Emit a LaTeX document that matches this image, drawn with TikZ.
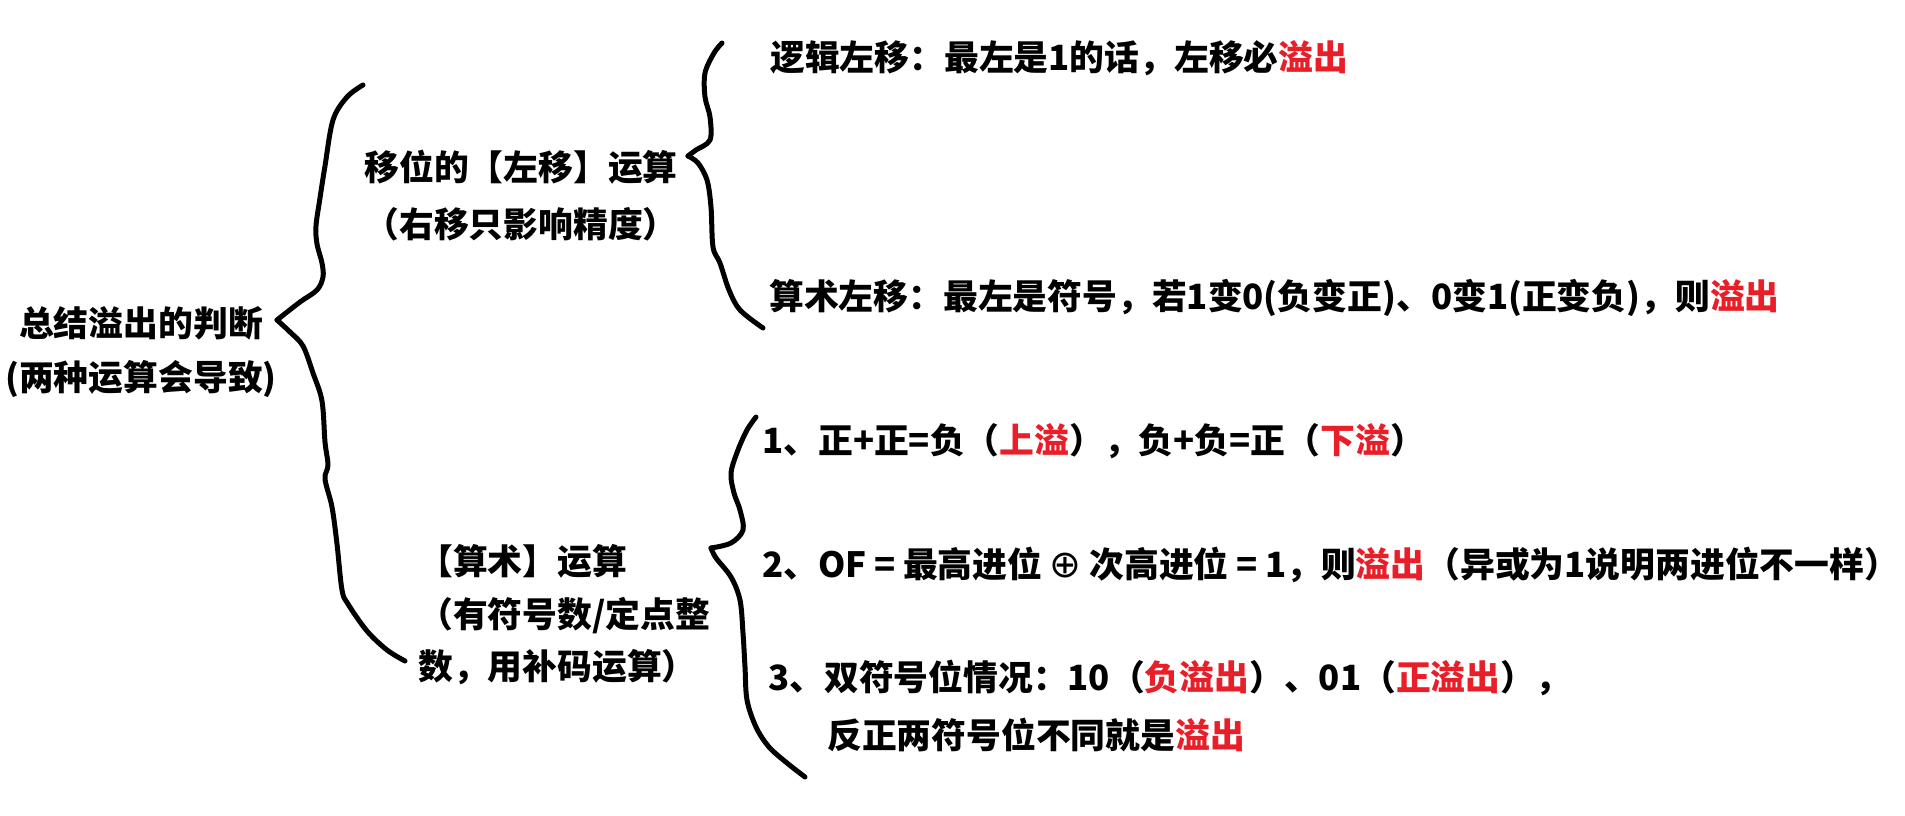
\documentclass[tikz,border=0pt]{standalone}
\usepackage{fontspec}
\setmainfont{Noto Sans CJK SC}
\newfontfamily\symfont{DejaVu Sans}
\definecolor{ored}{RGB}{232,30,40}
\tikzset{
  txt/.style={inner sep=0pt, font=\bfseries\fontsize{34.8}{52.5}\selectfont, text=black},
  bracepath/.style={line width=5pt, line cap=round, line join=round, draw=black},
}
\newcommand{\ov}[1]{\textcolor{ored}{#1}}
\newcommand{\gapsp}{\hspace{0.22em}}
\begin{document}
\begin{tikzpicture}[x=1pt,y=-1pt]
\fill[white] (0,0) rectangle (1905,816);
\useasboundingbox (0,0) rectangle (1905,816);

% texts
\node[txt, align=center, font=\bfseries\fontsize{34.8}{54}\selectfont] (root) at (141,352) {总结溢出的判断\\(两种运算会导致)};
\node[txt, align=center, font=\bfseries\fontsize{34.8}{57}\selectfont] (shift) at (521,196) {移位的【左移】运算\\（右移只影响精度）};
\node[txt, align=left, anchor=west] (arith) at (418,615) {【算术】运算\\（有符号数/定点整\\数，用补码运算）};

\node[txt, anchor=west] (t1) at (770,58) {逻辑左移：最左是1的话，左移必\ov{溢出}};
\node[txt, anchor=west] (t2) at (769,298) {算术左移：最左是符号，若1变0(负变正)、0变1(正变负)，则\ov{溢出}};
\node[txt, anchor=west] (i1) at (762,441) {1、正+正=负（\ov{上溢}），负+负=正（\ov{下溢}）};
\node[txt, anchor=west] (i2) at (762,565) {2、OF{\gapsp}={\gapsp}最高进位{\gapsp}{\symfont\mdseries\fontsize{38}{38}\selectfont ⊕}{\gapsp}次高进位{\gapsp}={\gapsp}1，则\ov{溢出}（异或为1说明两进位不一样）};
\node[txt, anchor=west] (i3) at (768,678) {3、双符号位情况：10（\ov{负溢出}）、01（\ov{正溢出}），};
\node[txt, anchor=west] (i3b) at (827,735) {反正两符号位不同就是\ov{溢出}};

% braces
\coordinate (tipA) at (277,320);
\coordinate (tipB) at (688,156);
\coordinate (tipC) at (711,548);
\draw[bracepath] plot[smooth, tension=0.55] coordinates {(363,85) (347,97) (333,120) (325,166) (320,198) (316,226) (317,244) (322,263) (323,277) (317,290) (300,302) (277,320)};
\draw[bracepath] plot[smooth, tension=0.55] coordinates {(277,320) (290,332) (303,346) (313,373) (322,401) (325,442) (328,465) (325,479) (332,507) (337,544) (342,590) (348,604) (367,631) (387,650) (405,661)};

\draw[bracepath] plot[smooth, tension=0.55] coordinates {(722,43) (714,53) (705,73) (705,97) (710,117) (710,140) (696,150) (688,156)};
\draw[bracepath] plot[smooth, tension=0.55] coordinates {(688,156) (698,163) (707,180) (711,207) (713,247) (720,263) (729,290) (740,310) (763,328)};

\draw[bracepath] plot[smooth, tension=0.55] coordinates {(756,417) (747,430) (738,450) (731,473) (734,493) (740,510) (743,530) (731,543) (711,548)};
\draw[bracepath] plot[smooth, tension=0.55] coordinates {(711,548) (716,558) (731,577) (740,600) (743,633) (745,667) (747,700) (756,727) (769,747) (787,763) (805,777)};
\end{tikzpicture}
\end{document}
